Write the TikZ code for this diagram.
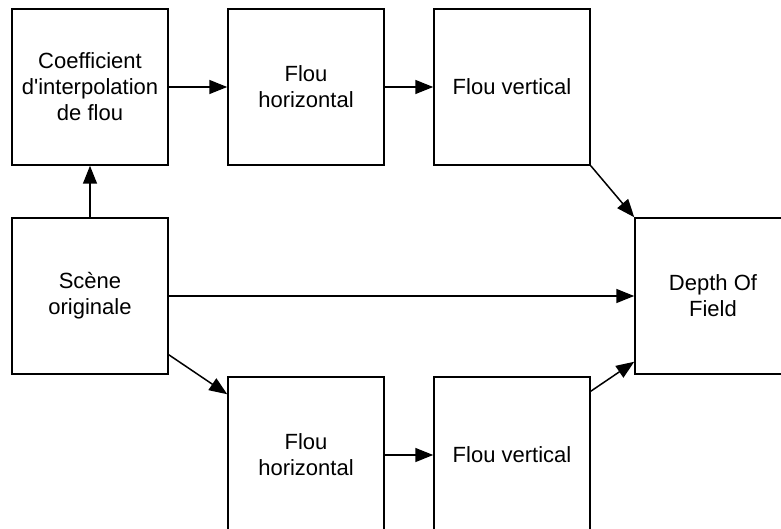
\documentclass[tikz,border=0pt]{standalone}
\usepackage{fontspec}
\setmainfont{Liberation Sans}[Ligatures=TeXOff]
\usetikzlibrary{arrows.meta}
\tikzset{
  stage/.style={draw, line width=1.5pt, minimum width=156pt, minimum height=156pt,
    inner sep=0pt, align=center, font=\fontsize{22}{26}\selectfont},
  flow/.style={line width=1.5pt, -{Triangle[length=18pt,width=14pt]}}
}
\begin{document}
\begin{tikzpicture}[x=1pt, y=-1pt]
  \path[use as bounding box, clip] (0,0) rectangle (781,529);
  \node[stage] (coef)  at (90,87)  {Coefficient\\d'interpolation\\de flou};
  \node[stage] (hup)   at (306,87) {Flou\\horizontal};
  \node[stage] (vup)   at (512,87) {Flou vertical};
  \node[stage] (scene) at (90,296) {Scène\\originale};
  \node[stage] (dof)   at (713,296) {Depth Of\\Field};
  \node[stage] (hdown) at (306,455) {Flou\\horizontal};
  \node[stage] (vdown) at (512,455) {Flou vertical};

  \draw[flow] (scene.north) -- (coef.south);
  \draw[flow] (coef.east) -- (hup.west);
  \draw[flow] (hup.east) -- (vup.west);
  \draw[flow] (vup.south east) -- (dof.north west);
  \draw[flow] (scene.east) -- (dof.west);
  \draw[flow] ([yshift=20pt]scene.south east) -- ([yshift=-18pt]hdown.north west);
  \draw[flow] (hdown.east) -- (vdown.west);
  \draw[flow] ([yshift=-15pt]vdown.north east) -- ([yshift=13pt]dof.south west);
\end{tikzpicture}
\end{document}
